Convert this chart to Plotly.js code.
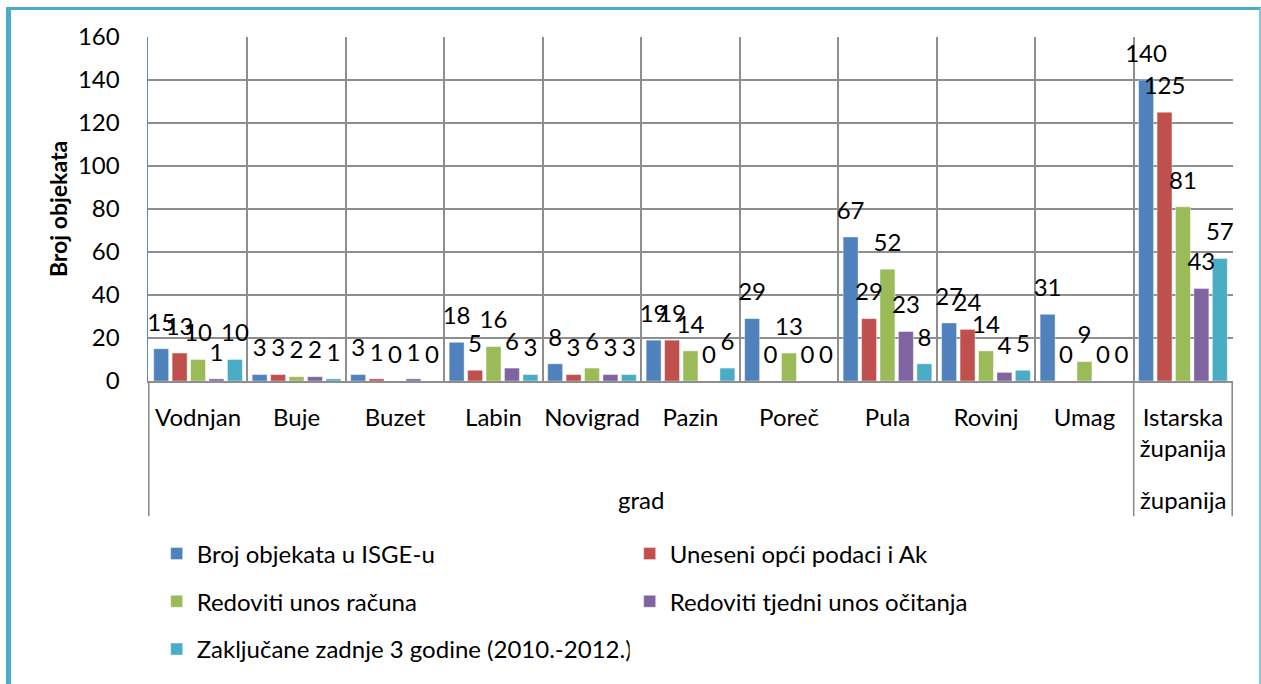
<!DOCTYPE html>
<html>
<head>
<meta charset="utf-8">
<script src="https://cdn.plot.ly/plotly-3.0.1.min.js"></script>
<style>
  html, body { margin: 0; padding: 0; background: #fff; }
  #chart { position: absolute; left: 0; top: 0; width: 1261px; height: 684px; }
  #frame { position: absolute; left: 6px; top: 7px; width: 1248px; height: 720px;
           border-left: 5px solid #4BACC6; border-top: 3px solid #4BACC6; border-right: 2px solid #7FC6D8;
           pointer-events: none; }
</style>
</head>
<body>
<div id="chart"></div>
<div id="frame"></div>
<script>
// ---- data ----
const categories = ["Vodnjan", "Buje", "Buzet", "Labin", "Novigrad", "Pazin", "Poreč", "Pula", "Rovinj", "Umag", "Istarska<br>županija"];
const groupLabels = ["grad", "županija"];
const seriesNames = [
  "Broj objekata u ISGE-u",
  "Uneseni opći podaci i Ak",
  "Redoviti unos računa",
  "Redoviti tjedni unos očitanja",
  "Zaključane zadnje 3 godine (2010.-2012.)"
];
const brojObjekata   = [15, 3, 3, 18, 8, 19, 29, 67, 27, 31, 140];
const uneseniPodaci  = [13, 3, 1, 5, 3, 19, 0, 29, 24, 0, 125];
const unosRacuna     = [10, 2, 0, 16, 6, 14, 13, 52, 14, 9, 81];
const tjedniUnos     = [1, 2, 1, 6, 3, 0, 0, 23, 4, 0, 43];
const zakljucane     = [10, 1, 0, 3, 3, 6, 0, 8, 5, 0, 57];
const yTicks = [0, 20, 40, 60, 80, 100, 120, 140, 160];

const seriesValues = [brojObjekata, uneseniPodaci, unosRacuna, tjedniUnos, zakljucane];
const colors = ["#4F81BD", "#C0504D", "#9BBB59", "#8064A2", "#4BACC6"];
const legendIds = ["legend", "legend", "legend2", "legend2", "legend3"];

const FONT = "Lato, 'Liberation Sans', Arial, sans-serif";
const FS = 24;
const GRID = "#8E8E8E";

const traces = [];
seriesValues.forEach((vals, i) => {
  traces.push({
    type: "bar",
    name: seriesNames[i],
    x: categories,
    y: vals,
    marker: { color: colors[i], line: { color: "rgba(255,255,255,0.5)", width: 0.8 } },
    legend: legendIds[i],
    hoverinfo: "x+y+name"
  });
});
// data labels (text-only scatter traces grouped like the bars)
seriesValues.forEach((vals, i) => {
  traces.push({
    type: "scatter",
    mode: "markers+text",
    x: categories,
    y: vals,
    text: vals.map(String),
    textposition: "top center",
    textfont: { family: FONT, size: FS, color: "#000" },
    marker: { size: 18, color: "rgba(0,0,0,0)" },
    showlegend: false,
    cliponaxis: false,
    hoverinfo: "skip"
  });
});

const plotH = 346;
const py = (Y) => (383 - Y) / plotH;   // pixel-row helper for annotations/legends

const legendBase = {
  orientation: "h", x: 0.008, xanchor: "left", yanchor: "middle",
  entrywidth: 428, entrywidthmode: "pixels",
  font: { family: FONT, size: FS, color: "#000" }, bgcolor: "rgba(0,0,0,0)"
};

const layout = {
  width: 1261,
  height: 684,
  margin: { l: 148, r: 28, t: 37, b: 301 },
  paper_bgcolor: "#fff",
  plot_bgcolor: "#fff",
  font: { family: FONT, size: FS, color: "#000" },
  barmode: "group",
  bargap: 0.064,
  bargroupgap: 0.19,
  scattermode: "group",
  scattergap: 0.064,
  showlegend: true,
  xaxis: {
    type: "category",
    tickson: "boundaries",
    tickangle: 0,
    showgrid: true,
    gridcolor: GRID,
    gridwidth: 1.6,
    showline: true,
    linecolor: GRID,
    linewidth: 2,
    ticks: "",
    tickfont: { family: FONT, size: FS, color: "#000" },
    ticklabelstandoff: 14,
    fixedrange: true
  },
  yaxis: {
    range: [0, 160],
    tickvals: yTicks,
    ticktext: yTicks.map(String),
    showgrid: true,
    gridcolor: GRID,
    gridwidth: 1.6,
    zeroline: false,
    showline: true,
    linecolor: "#5B8ACB",
    linewidth: 1.5,
    ticks: "",
    tickfont: { family: FONT, size: FS, color: "#000" },
    ticklabelstandoff: 22,
    title: { text: "<b>Broj objekata</b>", font: { family: FONT, size: 23, color: "#000" }, standoff: 4 },
    fixedrange: true
  },
  legend: Object.assign({}, legendBase, { y: py(557) }),
  legend2: Object.assign({}, legendBase, { y: py(605) }),
  legend3: Object.assign({}, legendBase, { y: py(653) }),
  annotations: [
    { text: groupLabels[0], xref: "x", x: 4.5, yref: "paper", y: py(502), yanchor: "middle", showarrow: false, font: { family: FONT, size: FS, color: "#000" } },
    { text: groupLabels[1], xref: "x", x: 10, yref: "paper", y: py(502), yanchor: "middle", showarrow: false, font: { family: FONT, size: FS, color: "#000" } }
  ],
  shapes: [-0.5, 9.5, 10.5].map(b => ({
    type: "line", xref: "x", yref: "paper", x0: b, x1: b, y0: 0, y1: py(519),
    line: { color: GRID, width: 1.6 }
  }))
};

Plotly.newPlot("chart", traces, layout, { displayModeBar: false, staticPlot: true });
</script>
</body>
</html>
